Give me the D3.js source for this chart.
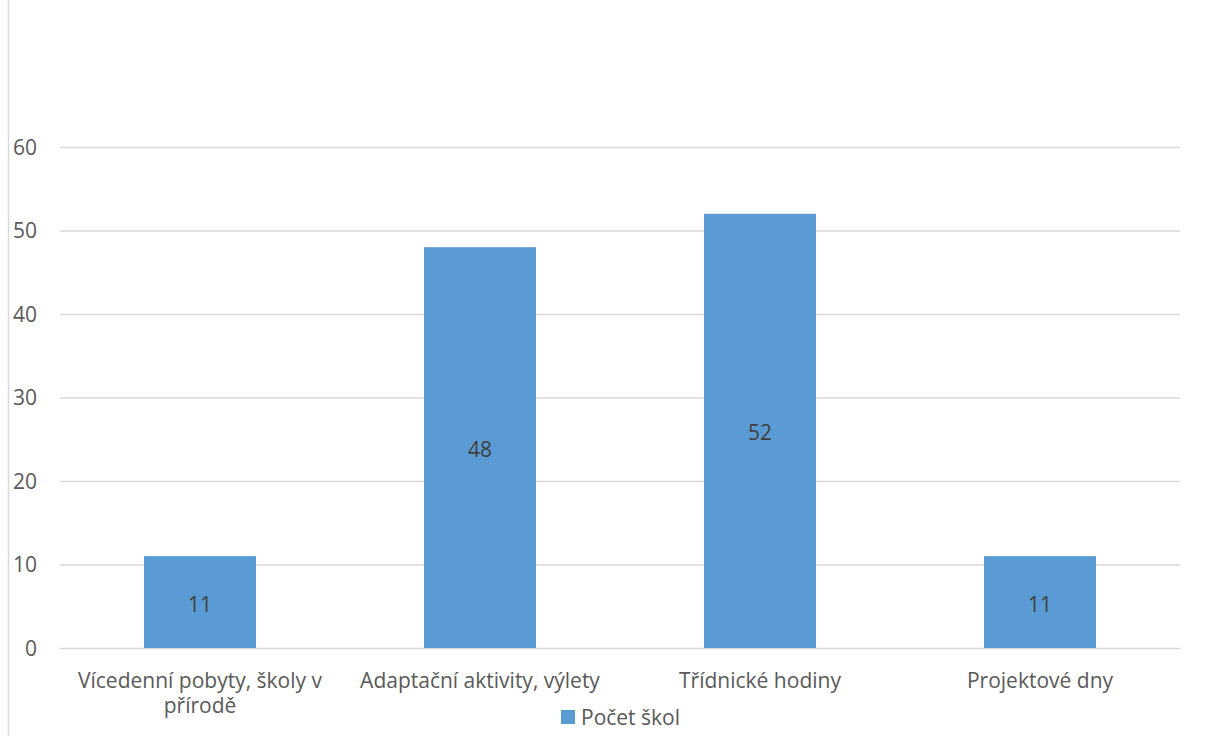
<!DOCTYPE html>
<html>
<head>
  <meta charset="utf-8">
  <title>Počet škol</title>
  <style>
    body { margin: 0; background: #fff; }
    svg text { font-family: "Open Sans", "Noto Sans", sans-serif; }
  </style>
</head>
<body>
  <div id="chart"></div>
  <script src="https://cdn.jsdelivr.net/npm/d3@7/dist/d3.min.js"></script>
  <script>

    let categories = [
      ['Vícedenní pobyty, školy v', 'přírodě'],
      ['Adaptační aktivity, výlety'],
      ['Třídnické hodiny'],
      ['Projektové dny']
    ];
    let values = [11, 48, 52, 11];
    let yTicks = [0, 10, 20, 30, 40, 50, 60];
    let seriesName = 'Počet škol';

    let svgWidth = 1211;
    let svgHeight = 736;
    let margin = {top: 147, right: 31, bottom: 88, left: 60};
    let width = svgWidth - margin.left - margin.right;
    let height = svgHeight - margin.top - margin.bottom;
    let fontSize = '21px';

    let svg = d3.select('#chart')
      .append('svg')
        .attr('width', svgWidth)
        .attr('height', svgHeight);

    // left frame line
    svg.append('line')
      .attr('x1', 8.5).attr('x2', 8.5)
      .attr('y1', 0).attr('y2', svgHeight)
      .style('stroke', '#d9d9d9')
      .style('stroke-width', 1.5);

    let g = svg.append('g')
      .attr('transform', 'translate(' + margin.left + ',' + margin.top + ')');

    let x = d3.scaleBand()
      .domain(d3.range(categories.length))
      .range([0, width])
      .paddingInner(0.6)
      .paddingOuter(0.3);

    let y = d3.scaleLinear()
      .domain([0, 60])
      .range([height, 0]);

    // gridlines
    g.append('g')
      .selectAll('line')
      .data(yTicks)
      .enter()
      .append('line')
        .attr('x1', 0)
        .attr('x2', width)
        .attr('y1', d => y(d) + 0.5)
        .attr('y2', d => y(d) + 0.5)
        .style('stroke', '#d9d9d9')
        .style('stroke-width', 1.3);

    // y tick labels
    g.append('g')
      .selectAll('text')
      .data(yTicks)
      .enter()
      .append('text')
        .attr('x', -23)
        .attr('y', d => y(d))
        .attr('dy', '0.36em')
        .style('text-anchor', 'end')
        .style('font-size', fontSize)
        .style('fill', '#595959')
        .text(d => d);

    // bars
    g.selectAll('.bar')
      .data(values)
      .enter()
      .append('rect')
        .attr('class', 'bar')
        .attr('x', (d, i) => x(i))
        .attr('width', x.bandwidth())
        .attr('y', d => y(d))
        .attr('height', d => height - y(d))
        .style('fill', '#5b9bd5');

    // data labels
    g.selectAll('.label')
      .data(values)
      .enter()
      .append('text')
        .attr('class', 'label')
        .attr('x', (d, i) => x(i) + x.bandwidth() / 2)
        .attr('y', d => (y(d) + height) / 2 + 2)
        .attr('dy', '0.36em')
        .style('text-anchor', 'middle')
        .style('font-size', fontSize)
        .style('fill', '#404040')
        .text(d => d);

    // category labels
    let cat = g.selectAll('.cat')
      .data(categories)
      .enter()
      .append('text')
        .attr('class', 'cat')
        .attr('x', (d, i) => x(i) + x.bandwidth() / 2)
        .attr('y', height + 40)
        .style('text-anchor', 'middle')
        .style('font-size', fontSize)
        .style('fill', '#595959');

    cat.selectAll('tspan')
      .data(d => d)
      .enter()
      .append('tspan')
        .attr('x', function() { return d3.select(this.parentNode).attr('x'); })
        .attr('dy', (d, i) => i === 0 ? 0 : 25)
        .text(d => d);

    // legend
    let legend = svg.append('g')
      .attr('transform', 'translate(561, 710)');

    legend.append('rect')
      .attr('width', 14)
      .attr('height', 14)
      .style('fill', '#5b9bd5');

    legend.append('text')
      .attr('x', 20)
      .attr('y', 7)
      .attr('dy', '0.36em')
      .style('font-size', fontSize)
      .style('fill', '#595959')
      .text(seriesName);

  </script>
</body>
</html>
